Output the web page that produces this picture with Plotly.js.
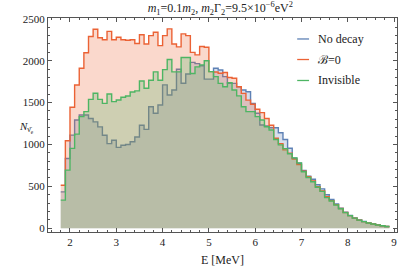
<!DOCTYPE html>
<html>
<head>
<meta charset="utf-8">
<script src="https://cdn.plot.ly/plotly-3.0.1.min.js"></script>
<style>
  html, body { margin: 0; padding: 0; background: #fff; }
  #gd { width: 399px; height: 267px; }
</style>
</head>
<body>
<div id="gd"></div>
<script>
"use strict";

/* bin edges, E [MeV] */
var binEdges = [1.8, 1.9, 2.0, 2.1, 2.2, 2.3, 2.4, 2.5, 2.6, 2.7, 2.8, 2.9,
	3.0, 3.1, 3.2, 3.3, 3.4, 3.5, 3.6, 3.7, 3.8, 3.9,
	4.0, 4.1, 4.2, 4.3, 4.4, 4.5, 4.6, 4.7, 4.8, 4.9,
	5.0, 5.1, 5.2, 5.3, 5.4, 5.5, 5.6, 5.7, 5.8, 5.9,
	6.0, 6.1, 6.2, 6.3, 6.4, 6.5, 6.6, 6.7, 6.8, 6.9,
	7.0, 7.1, 7.2, 7.3, 7.4, 7.5, 7.6, 7.7, 7.8, 7.9,
	8.0, 8.1, 8.2, 8.3, 8.4, 8.5, 8.6, 8.7, 8.8, 8.9];

/* counts per bin */
var noDecay = [434, 833, 1112, 1292, 1352, 1352, 1310, 1270, 1210, 1110, 1010, 1050,
	965, 990, 1000, 1033, 1090, 1230, 1180, 1450, 1372, 1471,
	1711, 1591, 1651, 1898, 1731, 1842, 1980, 1965, 1940, 1780,
	1780, 1910, 1890, 1810, 1730, 1730, 1690, 1650, 1630, 1490,
	1372, 1232, 1220, 1200, 1200, 1140, 1060, 955, 835, 775,
	690, 620, 585, 520, 470, 400, 345, 290, 240, 190,
	152, 122, 98, 80, 64, 52, 40, 30, 20];

var bZero = [514, 1044, 1444, 1710, 1910, 2095, 2290, 2375, 2275, 2250, 2350, 2250,
	2280, 2250, 2245, 2250, 2205, 2310, 2200, 2300, 2340, 2180,
	2300, 2380, 2200, 2165, 2320, 2300, 2100, 2070, 2170, 2160,
	1870, 1865, 1850, 1860, 1800, 1790, 1690, 1610, 1530, 1480,
	1420, 1380, 1310, 1230, 1075, 1010, 935, 895, 825, 760,
	680, 615, 565, 495, 445, 375, 330, 282, 235, 187,
	150, 121, 97, 79, 63, 51, 39, 29, 20];

var invisible = [335, 694, 953, 1124, 1332, 1392, 1539, 1611, 1539, 1491, 1603, 1511,
	1531, 1563, 1579, 1627, 1640, 1758, 1671, 1767, 1867, 1767,
	1894, 2014, 1867, 1867, 2038, 2038, 1847, 1927, 1950, 2000,
	1870, 1810, 1730, 1690, 1738, 1650, 1580, 1450, 1392, 1392,
	1332, 1292, 1212, 1172, 1060, 995, 950, 890, 840, 780,
	675, 605, 555, 490, 440, 365, 325, 278, 232, 186,
	150, 121, 97, 79, 63, 51, 39, 29, 20];

var names = ["No decay", "\u212C=0", "Invisible"];
var lineColors = ["#5E81B5", "#EB6235", "#4DB563"];
var fillColors = ["rgba(94,129,181,0.25)", "rgba(235,98,53,0.25)", "rgba(77,181,99,0.25)"];

/* step traces: last count repeated to close the final bin */
function stepTrace(counts, i)
{
	return {
		x: binEdges,
		y: counts.concat([counts[counts.length - 1]]),
		type: 'scatter',
		mode: 'lines',
		name: names[i],
		line: {shape: 'hv', color: lineColors[i], width: 1.4},
		fill: 'tozeroy',
		fillcolor: fillColors[i],
		showlegend: false,
		hoverinfo: 'skip'
	};
}

var serif = "Liberation Serif, Times New Roman, serif";

var data = [stepTrace(noDecay, 0), stepTrace(bZero, 1), stepTrace(invisible, 2)];

/* hand-placed legend: short line sample + label */
var legendY = [0.902, 0.806, 0.708];
var shapes = [];
var annotations = [];
for (var i = 0; i < names.length; i++)
{
	shapes.push({
		type: 'line', xref: 'paper', yref: 'paper',
		x0: 0.714, x1: 0.748, y0: legendY[i], y1: legendY[i],
		line: {color: lineColors[i], width: 1.3}
	});
	annotations.push({
		text: names[i], xref: 'paper', yref: 'paper',
		x: 0.767, y: legendY[i], xanchor: 'left', yanchor: 'middle',
		showarrow: false,
		font: {family: serif, size: 12, color: '#222'}
	});
}
annotations.push({
	text: "<i>N</i><sub>\u03BD\u0304<sub>e</sub></sub>",
	xref: 'paper', yref: 'paper',
	x: -0.034, y: 0.49,
	xanchor: 'right', yanchor: 'middle',
	showarrow: false,
	font: {family: serif, size: 11, color: '#222'}
});

var layout = {
	width: 399,
	height: 267,
	margin: {l: 48, r: 2, t: 18, b: 35, pad: 0},
	paper_bgcolor: '#fff',
	plot_bgcolor: '#fff',
	showlegend: false,
	font: {family: serif, size: 11, color: '#333'},
	title: {
		text: "<i>m</i><sub>1</sub>=0.1<i>m</i><sub>2</sub>, <i>m</i><sub>2</sub>\u0393<sub>2</sub>=9.5\u00D710<sup>\u22126</sup>eV<sup>2</sup>",
		font: {family: serif, size: 12, color: '#222'},
		x: 0.552, xanchor: 'center',
		y: 0.985, yanchor: 'top'
	},
	xaxis: {
		range: [1.525, 9.063],
		tickvals: [2, 3, 4, 5, 6, 7, 8, 9],
		ticks: 'inside',
		ticklen: 4,
		tickcolor: '#555',
		showline: true,
		linecolor: '#555',
		linewidth: 1,
		mirror: 'ticks',
		showgrid: false,
		zeroline: false,
		minor: {dtick: 0.2, ticklen: 2, ticks: 'inside', tickcolor: '#555'},
		tickfont: {family: serif, size: 11, color: '#222'},
		title: {text: "E [MeV]", font: {family: serif, size: 12, color: '#222'}, standoff: 12}
	},
	yaxis: {
		range: [-45, 2510],
		tickvals: [0, 500, 1000, 1500, 2000, 2500],
		ticks: 'inside',
		ticklen: 4,
		tickcolor: '#555',
		showline: true,
		linecolor: '#555',
		linewidth: 1,
		mirror: 'ticks',
		showgrid: false,
		zeroline: false,
		minor: {dtick: 100, ticklen: 2, ticks: 'inside', tickcolor: '#555'},
		tickfont: {family: serif, size: 11, color: '#222'}
	},
	shapes: shapes,
	annotations: annotations
};

Plotly.newPlot('gd', data, layout, {displayModeBar: false, staticPlot: true});
</script>
</body>
</html>
